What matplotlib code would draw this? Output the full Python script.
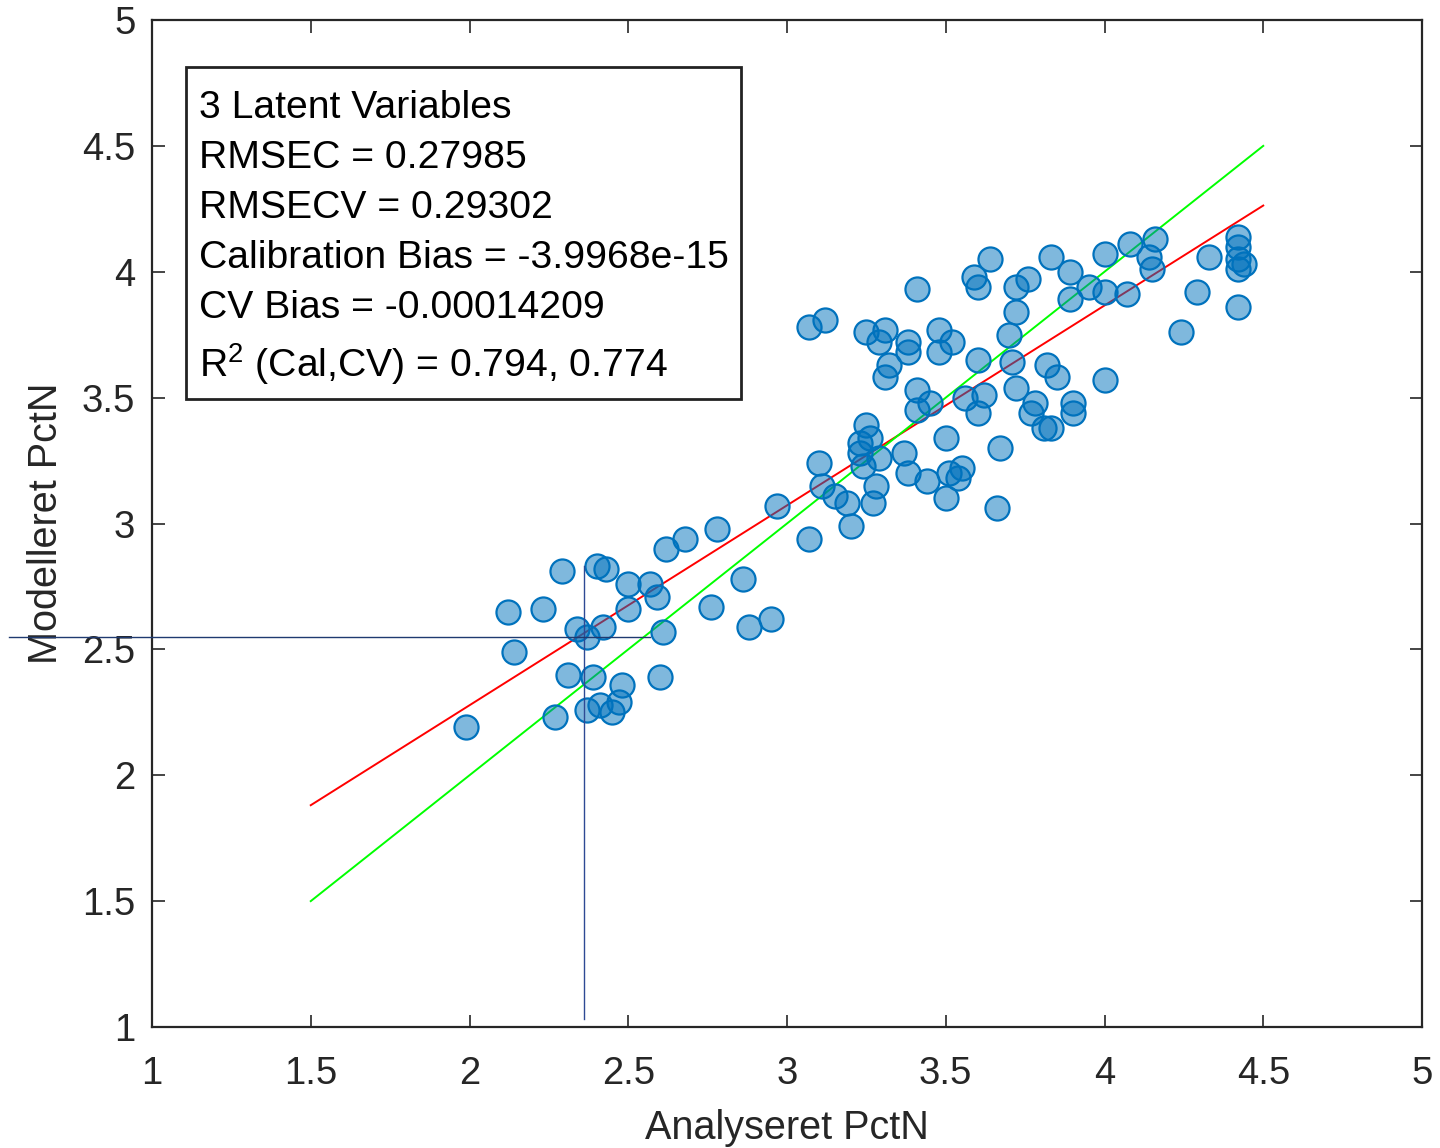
import matplotlib
matplotlib.use("Agg")
import matplotlib.pyplot as plt
from matplotlib.patches import Rectangle
import numpy as np

plt.rcParams['font.family'] = ['Liberation Sans', 'DejaVu Sans']
plt.rcParams['mathtext.fontset'] = 'custom'
plt.rcParams['mathtext.rm'] = 'Liberation Sans'
plt.rcParams['mathtext.it'] = 'Liberation Sans:italic'

# Measured (x) vs predicted (y) PctN
analysed = [
    2.78, 2.68, 2.62, 3.07, 2.29, 2.40, 2.43, 2.50, 2.57, 2.59, 2.50, 2.12, 2.23,
    2.86, 2.76, 2.88, 2.95, 2.61, 2.42, 2.34, 2.37, 2.14, 2.31, 2.39, 2.48, 2.60,
    2.47, 2.37, 2.41, 2.45, 2.27, 1.99,
    2.97, 3.10, 3.11, 3.15, 3.19, 3.20, 3.27, 3.28, 3.23, 3.26, 3.24, 3.29, 3.23, 3.25,
    3.41, 3.45, 3.41, 3.56, 3.62, 3.60, 3.72, 3.50, 3.67, 3.37, 3.38, 3.44, 3.51,
    3.55, 3.54, 3.50, 3.66,
    3.64, 3.59, 3.60, 3.41, 3.72, 3.76, 3.72, 3.70, 3.25, 3.31, 3.29, 3.38, 3.38,
    3.32, 3.31, 3.48, 3.52, 3.48, 3.60, 3.71, 3.82, 3.83, 3.89, 3.89, 3.07, 3.12,
    3.85, 3.78, 3.77, 3.81, 3.83, 3.90, 3.90, 3.95, 4.00, 4.07, 4.00, 4.08, 4.16,
    4.14, 4.15, 4.33, 4.42, 4.42, 4.42, 4.44, 4.42, 4.29, 4.42, 4.24, 4.00,
]
modelled = [
    2.98, 2.94, 2.90, 2.94, 2.81, 2.83, 2.82, 2.76, 2.76, 2.71, 2.66, 2.65, 2.66,
    2.78, 2.67, 2.59, 2.62, 2.57, 2.59, 2.58, 2.55, 2.49, 2.40, 2.39, 2.36, 2.39,
    2.29, 2.26, 2.28, 2.25, 2.23, 2.19,
    3.07, 3.24, 3.15, 3.11, 3.08, 2.99, 3.08, 3.15, 3.32, 3.34, 3.23, 3.26, 3.28, 3.39,
    3.53, 3.48, 3.45, 3.50, 3.51, 3.44, 3.54, 3.34, 3.30, 3.28, 3.20, 3.17, 3.20,
    3.22, 3.18, 3.10, 3.06,
    4.05, 3.98, 3.94, 3.93, 3.94, 3.97, 3.84, 3.75, 3.76, 3.77, 3.72, 3.72, 3.68,
    3.63, 3.58, 3.77, 3.72, 3.68, 3.65, 3.64, 3.63, 4.06, 4.00, 3.89, 3.78, 3.81,
    3.58, 3.48, 3.44, 3.38, 3.38, 3.48, 3.44, 3.94, 3.92, 3.91, 4.07, 4.11, 4.13,
    4.06, 4.01, 4.06, 4.14, 4.10, 4.05, 4.03, 4.01, 3.92, 3.86, 3.76, 3.57,
]

fit_x = [1.5, 4.5]
fit_slope = 0.794
fit_intercept = 0.69
ideal_x = [1.5, 4.5]

cursor_x = 2.36
cursor_y = 2.55

ticks = [1, 1.5, 2, 2.5, 3, 3.5, 4, 4.5, 5]
tick_labels = ['1', '1.5', '2', '2.5', '3', '3.5', '4', '4.5', '5']

stats_lines = [
    '3 Latent Variables',
    'RMSEC = 0.27985',
    'RMSECV = 0.29302',
    'Calibration Bias = -3.9968e-15',
    'CV Bias = -0.00014209',
    'R$^2$ (Cal,CV) = 0.794, 0.774',
]

fig = plt.figure(figsize=(14.4, 11.48), dpi=100)
ax = fig.add_axes([152/1440, 1 - 1027/1148, 1270/1440, 1007/1148])

tc = '#262626'
ax.set_xlim(1, 5)
ax.set_ylim(1, 5)

fx = np.array(fit_x)
ax.plot(fx, fit_slope * fx + fit_intercept, color='#FF0000', lw=1.4, zorder=2)
ax.plot(ideal_x, ideal_x, color='#00FF00', lw=1.4, zorder=2)

base = (0.0, 0.447, 0.741)
ax.scatter(analysed, modelled, s=300, facecolors=[base + (0.5,)],
           edgecolors=[base + (1.0,)], linewidths=1.6, zorder=3)

# cursor crosshair
ax.plot([cursor_x, cursor_x], [1.03, 2.83], color='#2E4A94', lw=1.0, zorder=4)
ax.plot([0.55, 2.57], [cursor_y, cursor_y], color='#1F3A70', lw=1.0,
        zorder=4, clip_on=False)

ax.set_xticks(ticks)
ax.set_xticklabels(tick_labels)
ax.set_yticks(ticks)
ax.set_yticklabels(tick_labels)
ax.tick_params(direction='in', length=9, width=1.2, top=True, right=True,
               labelsize=27.5, colors=tc)
ax.tick_params(axis='x', pad=21)
ax.tick_params(axis='y', pad=12)
for sp in ax.spines.values():
    sp.set_linewidth(1.6)
    sp.set_color(tc)

ax.set_xlabel('Analyseret PctN', fontsize=28.5, color=tc, labelpad=12)
ax.set_ylabel('Modelleret PctN', fontsize=28.5, color=tc, labelpad=12)

# statistics box
x0, x1 = (186 - 152) / 1270, (741 - 152) / 1270
y0, y1 = (1027 - 399) / 1007, (1027 - 67) / 1007
ax.add_patch(Rectangle((x0, y0), x1 - x0, y1 - y0, transform=ax.transAxes,
                       facecolor='white', edgecolor='#222222', lw=2.0, zorder=5))
baselines = [118, 168, 218, 268, 318, 377]
for line, b in zip(stats_lines, baselines):
    ax.text((199 - 152) / 1270, (1027 - b) / 1007, line, transform=ax.transAxes,
            fontsize=28.2, color='black', va='baseline', ha='left', zorder=6)

fig.savefig('out.png', dpi=100)
